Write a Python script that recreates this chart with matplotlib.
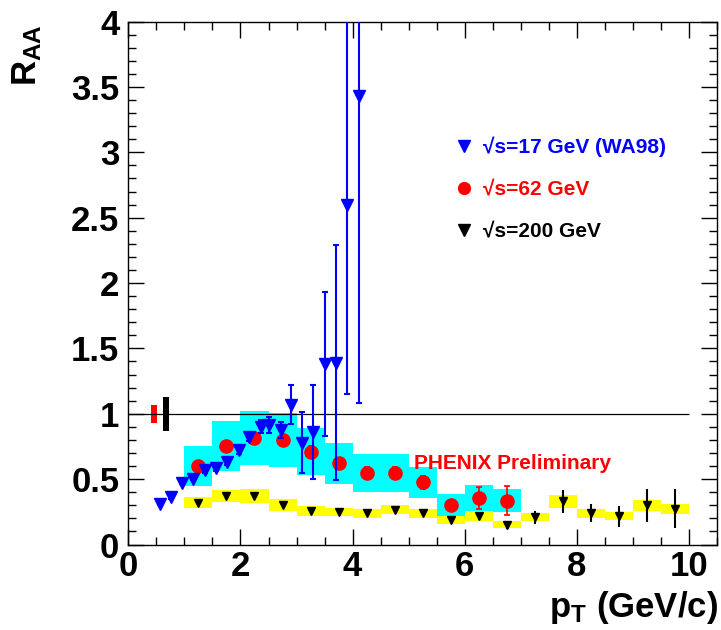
import numpy as np
import matplotlib
matplotlib.use("Agg")
import matplotlib.pyplot as plt
from matplotlib.ticker import MultipleLocator, FormatStrFormatter
from matplotlib.lines import Line2D

# ----------------------------------------------------
# Fonts
# ----------------------------------------------------
plt.rcParams['font.family'] = ['Liberation Sans', 'DejaVu Sans']
plt.rcParams['font.weight'] = 'bold'
plt.rcParams['mathtext.fontset'] = 'custom'
plt.rcParams['mathtext.rm'] = 'Liberation Sans:bold'
plt.rcParams['mathtext.it'] = 'Liberation Sans:bold'
plt.rcParams['mathtext.bf'] = 'Liberation Sans:bold'

# ----------------------------------------------------
# Data
# ----------------------------------------------------
# sqrt(s)=17 GeV (WA98)
pt17 = [0.56, 0.76, 0.96, 1.16, 1.37, 1.56, 1.76, 1.97, 2.16, 2.37,
        2.51, 2.72, 2.91, 3.10, 3.30, 3.50, 3.70, 3.90, 4.11]
raa17 = [0.31, 0.36, 0.47, 0.50, 0.57, 0.585, 0.63, 0.725, 0.82, 0.90,
         0.915, 0.875, 1.07, 0.78, 0.86, 1.38, 1.39, 2.60, 3.43]
err17 = [0.01, 0.01, 0.01, 0.01, 0.02, 0.02, 0.02, 0.03, 0.03, 0.05,
         0.06, 0.06, 0.15, 0.23, 0.36, 0.55, 0.90, 1.45, 2.35]

# sqrt(s)=62 GeV
pt62 = [1.25, 1.75, 2.25, 2.75, 3.25, 3.75, 4.25, 4.75, 5.25, 5.75, 6.25, 6.75]
raa62 = [0.60, 0.755, 0.815, 0.80, 0.71, 0.62, 0.55, 0.55, 0.475, 0.30, 0.355, 0.335]
err62 = [0.03, 0.03, 0.03, 0.03, 0.04, 0.04, 0.04, 0.04, 0.05, 0.04, 0.085, 0.11]
sys62 = [0.15, 0.19, 0.21, 0.205, 0.18, 0.16, 0.145, 0.145, 0.12, 0.083, 0.098, 0.09]

# sqrt(s)=200 GeV
pt200 = [1.25, 1.75, 2.25, 2.75, 3.25, 3.75, 4.25, 4.75, 5.25, 5.75,
         6.25, 6.75, 7.25, 7.75, 8.25, 8.75, 9.25, 9.75]
raa200 = [0.32, 0.37, 0.37, 0.305, 0.255, 0.248, 0.24, 0.265, 0.24, 0.185,
          0.218, 0.152, 0.21, 0.33, 0.24, 0.217, 0.30, 0.275]
err200 = [0.02, 0.02, 0.02, 0.02, 0.02, 0.02, 0.02, 0.02, 0.02, 0.02,
          0.03, 0.03, 0.05, 0.09, 0.07, 0.08, 0.125, 0.15]
sys200 = [0.042, 0.048, 0.052, 0.045, 0.037, 0.033, 0.034, 0.035, 0.034, 0.03,
          0.035, 0.026, 0.032, 0.047, 0.034, 0.032, 0.042, 0.038]

# normalization uncertainties at R_AA = 1 (62 GeV, 200 GeV)
norm_x = [0.46, 0.665]
norm_err = [0.07, 0.13]
norm_w = [0.10, 0.11]
norm_colors = ['red', 'black']

labels = ['√s=17 GeV (WA98)', '√s=62 GeV', '√s=200 GeV']

raa62 = np.array(raa62)
sys62 = np.array(sys62)
raa200 = np.array(raa200)
sys200 = np.array(sys200)
norm_err = np.array(norm_err)

# ----------------------------------------------------
# Figure
# ----------------------------------------------------
fig = plt.figure(figsize=(7.21, 6.30), dpi=100)
ax = fig.add_axes([0.178, 0.1357, 0.8165, 0.830])

# systematic boxes
ax.bar(pt200, 2 * sys200, bottom=raa200 - sys200, width=0.5,
       color='yellow', linewidth=0, zorder=1)
ax.bar(pt62, 2 * sys62, bottom=raa62 - sys62, width=0.5,
       color='cyan', linewidth=0, zorder=1)
ax.bar(norm_x, 2 * norm_err, bottom=1 - norm_err, width=norm_w,
       color=norm_colors, linewidth=0, zorder=2)

# unity line
ax.hlines(1, 0, 10, colors='black', linewidth=0.9, zorder=2)

# data points
ax.errorbar(pt200, raa200, yerr=err200, fmt='v', color='black',
            markersize=5.5, elinewidth=1.5, capsize=0, zorder=4)
ax.errorbar(pt62, raa62, yerr=err62, fmt='o', color='red',
            markersize=9.5, elinewidth=1.2, capsize=2, capthick=1.2, zorder=4)
ax.errorbar(pt17, raa17, yerr=err17, fmt='v', color='blue',
            markersize=8, elinewidth=1.5, capsize=2, capthick=1.5, zorder=5)

ax.text(5.1, 0.62, 'PHENIX Preliminary', color='red', fontsize=15,
        fontweight='bold', ha='left', va='center', zorder=6)

# ----------------------------------------------------
# Legend
# ----------------------------------------------------
handles = [
    Line2D([], [], linestyle='none', marker='v', color='blue', markersize=8.5),
    Line2D([], [], linestyle='none', marker='o', color='red', markersize=8.5),
    Line2D([], [], linestyle='none', marker='v', color='black', markersize=8),
]
ax.legend(handles, labels, loc='center left', bbox_to_anchor=(0.5556, 0.680),
          frameon=False, handlelength=0.8, handletextpad=0.5,
          borderpad=0, borderaxespad=0, labelspacing=1.12,
          labelcolor=['blue', 'red', 'black'],
          prop={'weight': 'bold', 'size': 15})

# ----------------------------------------------------
# Axes
# ----------------------------------------------------
ax.set_xlim(0, 10.5)
ax.set_ylim(0, 4)

ax.xaxis.set_major_locator(MultipleLocator(2))
ax.xaxis.set_minor_locator(MultipleLocator(0.5))
ax.yaxis.set_major_locator(MultipleLocator(0.5))
ax.yaxis.set_minor_locator(MultipleLocator(0.1))
ax.yaxis.set_major_formatter(FormatStrFormatter('%g'))
ax.xaxis.set_major_formatter(FormatStrFormatter('%g'))

ax.tick_params(which='both', direction='in', top=True, right=True, width=1)
ax.tick_params(which='major', length=11.5, labelsize=25)
ax.tick_params(which='minor', length=5.8)
ax.tick_params(axis='x', which='major', pad=4)
ax.tick_params(axis='y', which='major', pad=6.5)

for spine in ax.spines.values():
    spine.set_linewidth(1.0)

fig.text(0.0375, 0.962, r'$\mathrm{R}_{\mathrm{AA}}$', rotation=90,
         fontsize=25, ha='center', va='top')
fig.text(0.996, 0.02, r'$\mathrm{p}_{\mathrm{T}}$ (GeV/c)',
         fontsize=25, fontweight='bold', ha='right', va='baseline')

fig.savefig('out.png', dpi=100)
